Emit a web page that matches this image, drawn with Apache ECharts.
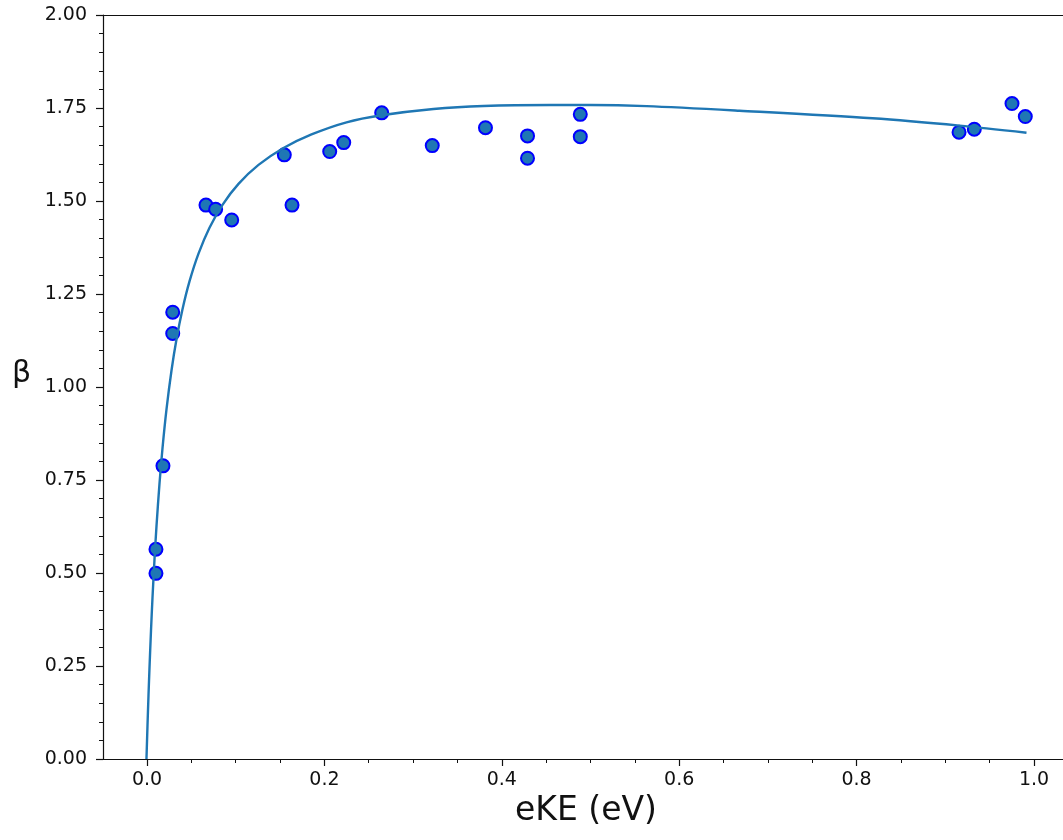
<!DOCTYPE html>
<html>
<head>
<meta charset="utf-8">
<script src="https://cdn.jsdelivr.net/npm/echarts@6/dist/echarts.min.js"></script>
<style>
html,body{margin:0;padding:0;background:#fff;}
#chart{width:1063px;height:840px;}
</style>
</head>
<body>
<div id="chart"></div>
<script>
// Measured data points (eKE in eV, beta)
const scatterX = [0.0101, 0.0101, 0.018, 0.029, 0.029, 0.0665, 0.0774, 0.0955, 0.1548, 0.1635, 0.206, 0.2218, 0.2646, 0.3216, 0.3816, 0.429, 0.429, 0.4885, 0.4885, 0.9155, 0.9327, 0.9752, 0.9902];
const scatterY = [0.499, 0.564, 0.788, 1.144, 1.201, 1.489, 1.478, 1.449, 1.624, 1.489, 1.633, 1.657, 1.737, 1.649, 1.697, 1.675, 1.615, 1.733, 1.673, 1.685, 1.693, 1.762, 1.727];

// Fitted curve
const curveX = [-0.0006, 0.00056, 0.00169, 0.00282, 0.00451, 0.0062, 0.00846, 0.01071, 0.01409, 0.01747, 0.02198, 0.02762, 0.03326, 0.04002, 0.04791, 0.05806, 0.07046, 0.08512, 0.10316, 0.12571, 0.15389, 0.18546, 0.22492, 0.26437, 0.323, 0.37937, 0.45491, 0.49999, 0.56313, 0.66798, 0.81792, 0.91601, 0.99154];
const curveY = [0.0, 0.0892, 0.1707, 0.2449, 0.3449, 0.4333, 0.5366, 0.6261, 0.7401, 0.8352, 0.9398, 1.0444, 1.1282, 1.2089, 1.2839, 1.3586, 1.4282, 1.4898, 1.546, 1.597, 1.6425, 1.679, 1.7116, 1.7304, 1.7473, 1.7554, 1.7581, 1.7581, 1.7551, 1.7427, 1.7223, 1.7027, 1.6836];

// Tick positions
const xMajorTicks = [0.0, 0.2, 0.4, 0.6, 0.8, 1.0];
const xMinorTicks = [0.05, 0.1, 0.15, 0.25, 0.3, 0.35, 0.45, 0.5, 0.55, 0.65, 0.7, 0.75, 0.85, 0.9, 0.95];

const xMin = -0.0496, xMax = 1.0327;
const font = 'DejaVu Sans';
const axisColor = '#111';

const chart = echarts.init(document.getElementById('chart'));
const scatterData = scatterX.map((x, i) => [x, scatterY[i]]);
const curveData = curveX.map((x, i) => [x, curveY[i]]);

chart.setOption({
  animation: false,
  backgroundColor: '#fff',
  grid: {left: 103, right: 0, top: 15, bottom: 81, containLabel: false},
  xAxis: [
    {
      type: 'value', min: xMin, max: xMax, position: 'bottom',
      name: 'eKE (eV)', nameLocation: 'middle', nameGap: 36,
      nameTextStyle: {fontFamily: font, fontSize: 33, color: axisColor, padding: [0, 0, 0, 6]},
      axisLine: {show: true, onZero: false, lineStyle: {color: axisColor, width: 1.2}},
      axisTick: {show: true, customValues: xMajorTicks, length: 7, lineStyle: {color: axisColor, width: 1.2}},
      axisLabel: {show: true, customValues: xMajorTicks, fontFamily: font, fontSize: 19, color: axisColor, margin: 12,
        formatter: v => Number(v).toFixed(1)},
      splitLine: {show: false}
    },
    {
      type: 'value', min: xMin, max: xMax, position: 'bottom',
      axisLine: {show: false},
      axisTick: {show: true, customValues: xMinorTicks, length: 4, lineStyle: {color: axisColor, width: 1}},
      axisLabel: {show: false},
      splitLine: {show: false}
    },
    {
      type: 'value', min: xMin, max: xMax, position: 'top',
      axisLine: {show: true, onZero: false, lineStyle: {color: axisColor, width: 1.2}},
      axisTick: {show: false}, axisLabel: {show: false}, splitLine: {show: false}
    }
  ],
  yAxis: {
    type: 'value', min: 0, max: 2, interval: 0.25,
    axisLine: {show: true, onZero: false, lineStyle: {color: axisColor, width: 1.2}},
    axisTick: {show: true, length: 7, lineStyle: {color: axisColor, width: 1.2}},
    minorTick: {show: true, splitNumber: 5, length: 4, lineStyle: {color: axisColor, width: 1}},
    axisLabel: {fontFamily: font, fontSize: 19, color: axisColor, margin: 16, formatter: v => Number(v).toFixed(2)},
    splitLine: {show: false}, minorSplitLine: {show: false}
  },
  graphic: [
    {type: 'text', left: 12, top: 359, style: {text: 'β', font: '30px "DejaVu Sans"', fill: axisColor}}
  ],
  series: [
    {
      type: 'scatter', data: scatterData, xAxisIndex: 0, symbol: 'circle', symbolSize: 13, z: 2,
      itemStyle: {color: '#1f77b4', borderColor: '#0000ff', borderWidth: 2, opacity: 1}
    },
    {
      type: 'line', data: curveData, xAxisIndex: 0, showSymbol: false, smooth: 0.3, z: 3,
      lineStyle: {color: '#1f77b4', width: 2.4}
    }
  ]
});
</script>
</body>
</html>
